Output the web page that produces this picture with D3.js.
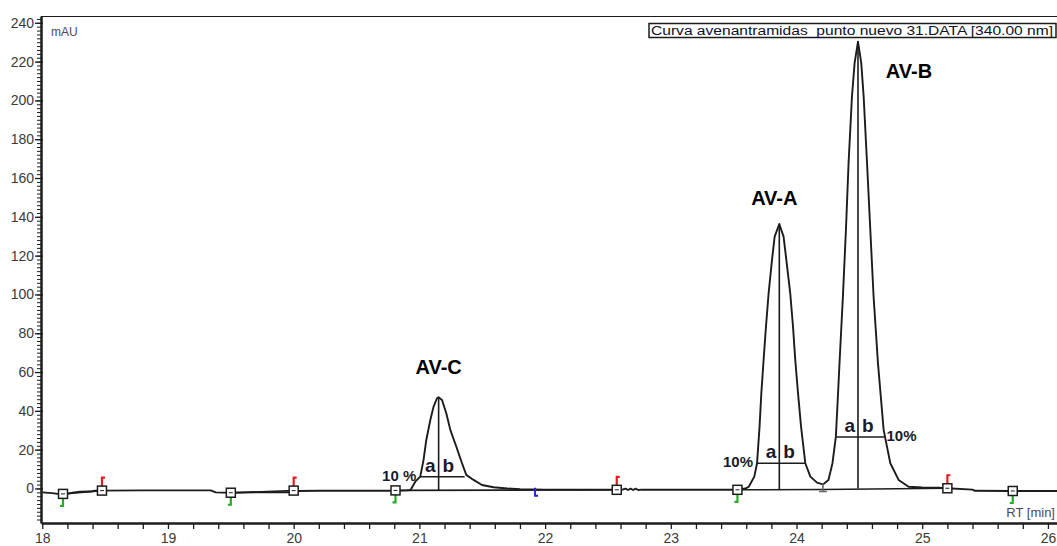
<!DOCTYPE html>
<html>
<head>
<meta charset="utf-8">
<script src="https://cdn.jsdelivr.net/npm/d3@7"></script>
<style>
body{margin:0;background:#fff;}
svg{display:block;font-family:"Liberation Sans",Arial,sans-serif;}
</style>
</head>
<body>
<div class="chrom"></div>
<script>
// chromatogram trace (RT in min, signal in mAU)
const traceRT = [18.00, 18.08, 18.12, 18.20, 18.24, 18.30, 18.38, 18.42, 18.47, 18.80, 19.10, 19.34, 19.38, 19.50, 19.70, 19.95, 20.03, 20.20, 20.50, 20.80, 20.90, 20.93,
	20.967, 21.007, 21.033, 21.055, 21.087, 21.113, 21.14, 21.153, 21.18, 21.214, 21.246, 21.294, 21.339, 21.373, 21.431, 21.498, 21.59, 21.70, 21.80, 22.00, 22.30, 22.57,
	22.62, 22.64, 22.66, 22.68, 22.70, 22.72, 22.74, 22.77, 23.00, 23.30, 23.50, 23.56, 23.60, 23.62, 23.664, 23.686, 23.706, 23.72, 23.738, 23.757, 23.778, 23.805, 23.826,
	23.863, 23.897, 23.919, 23.95, 23.972, 23.99, 24.012, 24.036, 24.07, 24.11, 24.163, 24.21, 24.254, 24.286, 24.313, 24.329, 24.342, 24.369, 24.393, 24.414, 24.441, 24.462,
	24.489, 24.515, 24.534, 24.561, 24.587, 24.613, 24.648, 24.693, 24.746, 24.812, 24.892, 25.00, 25.13, 25.20, 25.40, 25.42, 25.70, 26.10]
const traceMAU = [-2.0, -2.4, -2.8, -2.8, -2.2, -1.7, -1.6, -1.2, -1.1, -1.0, -1.0, -1.0, -2.0, -2.2, -2.0, -2.0, -1.3, -1.2, -1.2, -1.2, -1.0, -0.8,
	3.5, 6.1, 14.7, 25.0, 35.3, 42.2, 46.5, 47.0, 45.6, 38.8, 30.2, 21.5, 13.0, 7.0, 4.4, 1.8, 0.6, 0.0, -0.4, -0.6, -0.7, -0.7,
	-0.5, -0.1, -0.8, -0.1, -0.8, -0.1, -0.8, -0.6, -0.7, -0.7, -0.7, -0.4, 0.2, 0.9, 6.1, 13.0, 31.9, 49.0, 66.2, 83.4, 100.6, 117.8, 129.8,
	136.3, 129.8, 117.8, 100.6, 83.4, 66.2, 49.0, 31.9, 13.0, 6.1, 3.0, 2.1, 4.4, 13.0, 26.7, 47.3, 64.5, 98.9, 133.2, 167.6, 202.0, 219.2,
	230.3, 219.2, 202.0, 167.6, 133.2, 98.9, 64.5, 30.2, 13.0, 4.4, 0.9, 0.5, 0.4, 0.1, -0.6, -1.2, -1.3, -1.3]

// integration markers
const markerRT = [18.165, 18.475, 19.5, 20.0, 20.81, 21.92, 22.57, 23.53, 24.21, 25.2, 25.72]
const markerMAU = [-2.8, -1.1, -2.2, -1.1, -1.0, -0.7, -0.7, -0.7, -0.5, 0.1, -1.3]
const markerType = ["start", "end", "start", "end", "start", "split", "end", "start", "valley", "end", "start"]
const baselinePairs = [[0, 1], [2, 3], [4, 6], [7, 8], [8, 9]]

// peaks
const peakNames = ["AV-C", "AV-A", "AV-B"]
const peakRT = [21.153, 23.863, 24.489]
const peakTop = [47.0, 136.3, 230.3]
const peakBase = [-0.9, -0.7, 0.0]
const tenPctMAU = [6.0, 13.0, 26.5]
const tenPctFrom = [21.007, 23.686, 24.313]
const tenPctTo = [21.36, 24.07, 24.70]
const tenPctText = ["10 %", "10%", "10%"]
const tenPctSide = ["left", "left", "right"]

const xLabels = [18, 19, 20, 21, 22, 23, 24, 25, 26]
const yLabels = [0, 20, 40, 60, 80, 100, 120, 140, 160, 180, 200, 220, 240]
const legendText = "Curva avenantramidas_punto nuevo 31.DATA [340.00 nm]"

const width = 1057
const height = 546
const margin = {left:41, right:0, top:16, bottom:23}

const xScale = d3.scaleLinear()
	.domain([17.99, 26.08])
	.range([margin.left, width + 1])

const yScale = d3.scaleLinear()
	.domain([-17.8, 243.5])
	.range([height - margin.bottom, margin.top])

let svg = d3.select(".chrom")
	.append("svg")
	.attr("width", width)
	.attr("height", height)

const ink = "#1c1c1c"
const labelInk = "#3a3a3a"

// top frame line
svg.append("line")
	.attr("x1", margin.left).attr("x2", width)
	.attr("y1", margin.top + 0.5).attr("y2", margin.top + 0.5)
	.attr("stroke", ink).attr("stroke-width", 1.2)

// X axis: minor ticks every 0.2 min, labels on whole minutes
const xMinor = d3.range(0, 41).map(function(i){return 18 + i * 0.2})
const xAxisCall = d3.axisBottom(xScale)
	.tickValues(xMinor)
	.tickSize(6)
	.tickSizeOuter(0)
	.tickPadding(4)
	.tickFormat(function(d){
		const r = Math.round(d)
		return (Math.abs(d - r) < 1e-6 && xLabels.includes(r)) ? r : ""
	})

const gx = svg.append("g")
	.attr("class", "x axis")
	.attr("transform", "translate(0, " + (height - margin.bottom) + ")")
	.call(xAxisCall)
gx.select(".domain").attr("stroke", ink).attr("stroke-width", 2.5)
gx.selectAll(".tick line").attr("stroke", ink).attr("stroke-width", 1.3)
gx.selectAll("text")
	.attr("font-size", "14px")
	.attr("fill", labelInk)
	.attr("font-family", "Liberation Sans, Arial, sans-serif")

// Y axis: minor every 2 mAU, labelled every 20
const yMinor = d3.range(-8, 122).map(function(i){return i * 2}).filter(function(v){return v >= -16 && v <= 242})
svg.append("g")
	.attr("class", "y minor")
	.attr("transform", "translate(" + margin.left + ", 0)")
	.call(d3.axisLeft(yScale).tickValues(yMinor).tickSize(4).tickFormat(""))
	.call(function(g){g.select(".domain").remove()})
	.selectAll("line").attr("stroke", ink).attr("stroke-width", 1)

const gy = svg.append("g")
	.attr("class", "y axis")
	.attr("transform", "translate(" + margin.left + ", 0)")
	.call(d3.axisLeft(yScale).tickValues(yLabels).tickSize(6).tickSizeOuter(0).tickPadding(1))
gy.select(".domain").attr("stroke", ink).attr("stroke-width", 2.5)
gy.selectAll(".tick line").attr("stroke", ink).attr("stroke-width", 1.3).attr("x2", -6).attr("x1", 2)
gy.selectAll("text")
	.attr("font-size", "14px")
	.attr("fill", labelInk)
	.attr("font-family", "Liberation Sans, Arial, sans-serif")

// axis units
svg.append("text")
	.attr("x", margin.left + 10)
	.attr("y", margin.top + 20)
	.attr("font-size", "12px")
	.attr("fill", "#4a4a5a")
	.text("mAU")

svg.append("text")
	.attr("x", width - 2)
	.attr("y", height - margin.bottom - 6)
	.attr("text-anchor", "end")
	.attr("font-size", "13px")
	.attr("fill", "#4a4a5a")
	.text("RT [min]")

// integration baselines
svg.append("g").selectAll("line")
	.data(baselinePairs)
	.enter()
	.append("line")
	.attr("x1", function(d){return xScale(markerRT[d[0]])})
	.attr("y1", function(d){return yScale(markerMAU[d[0]])})
	.attr("x2", function(d){return xScale(markerRT[d[1]])})
	.attr("y2", function(d){return yScale(markerMAU[d[1]])})
	.attr("stroke", ink)
	.attr("stroke-width", 1.6)

// drop lines at apex
svg.append("g").selectAll("line")
	.data(peakRT)
	.enter()
	.append("line")
	.attr("x1", function(d){return xScale(d)})
	.attr("x2", function(d){return xScale(d)})
	.attr("y1", function(d, i){return yScale(peakTop[i])})
	.attr("y2", function(d, i){return yScale(peakBase[i])})
	.attr("stroke", ink)
	.attr("stroke-width", 1.6)

// 10 % width lines
svg.append("g").selectAll("line")
	.data(tenPctMAU)
	.enter()
	.append("line")
	.attr("x1", function(d, i){return xScale(tenPctFrom[i])})
	.attr("x2", function(d, i){return xScale(tenPctTo[i])})
	.attr("y1", function(d){return yScale(d)})
	.attr("y2", function(d){return yScale(d)})
	.attr("stroke", ink)
	.attr("stroke-width", 1.6)

// the trace
const line = d3.line()
	.x(function(d){return xScale(traceRT[d])})
	.y(function(d){return yScale(traceMAU[d])})

svg.append("path")
	.datum(d3.range(traceRT.length))
	.attr("d", line)
	.attr("fill", "none")
	.attr("stroke", ink)
	.attr("stroke-width", 1.9)
	.attr("stroke-linejoin", "round")

// "a" / "b" labels and 10 % labels
const ab = svg.append("g")
	.attr("font-size", "19px")
	.attr("font-weight", "bold")
	.attr("fill", "#1a1a2a")
peakRT.forEach(function(rt, i){
	const x = xScale(rt)
	const y = yScale(tenPctMAU[i]) - 5
	ab.append("text").attr("x", x - 3).attr("y", y).attr("text-anchor", "end").text("a")
	ab.append("text").attr("x", x + 4).attr("y", y).attr("text-anchor", "start").text("b")
})

svg.append("g").selectAll("text")
	.data(tenPctText)
	.enter()
	.append("text")
	.attr("x", function(d, i){return tenPctSide[i] === "left" ? xScale(tenPctFrom[i]) - 4 : xScale(tenPctTo[i]) + 2})
	.attr("y", function(d, i){return yScale(tenPctMAU[i]) + 4})
	.attr("text-anchor", function(d, i){return tenPctSide[i] === "left" ? "end" : "start"})
	.attr("font-size", "15px")
	.attr("font-weight", "bold")
	.attr("fill", "#1a1a2a")
	.text(function(d){return d})

// peak names
const nameOffset = [[0, -23], [-5, -19], [51, 36]]
svg.append("g").selectAll("text")
	.data(peakNames)
	.enter()
	.append("text")
	.attr("x", function(d, i){return xScale(peakRT[i]) + nameOffset[i][0]})
	.attr("y", function(d, i){return yScale(peakTop[i]) + nameOffset[i][1]})
	.attr("text-anchor", "middle")
	.attr("font-size", "20px")
	.attr("font-weight", "bold")
	.attr("fill", "#000")
	.text(function(d){return d})

// integration markers
const mk = svg.append("g")
markerRT.forEach(function(rt, i){
	const x = xScale(rt)
	const y = yScale(markerMAU[i])
	const t = markerType[i]
	if (t === "start") {
		mk.append("path")
			.attr("d", "M" + x + "," + (y + 4) + "V" + (y + 12) + "H" + (x - 3))
			.attr("fill", "none").attr("stroke", "#22b022").attr("stroke-width", 2.2)
	}
	if (t === "end") {
		mk.append("path")
			.attr("d", "M" + x + "," + (y - 4) + "V" + (y - 13) + "H" + (x + 3))
			.attr("fill", "none").attr("stroke", "#e02020").attr("stroke-width", 2.2)
	}
	if (t === "split") {
		mk.append("path")
			.attr("d", "M" + x + "," + (y - 2) + "V" + (y + 6) + "H" + (x + 3))
			.attr("fill", "none").attr("stroke", "#2828c8").attr("stroke-width", 2)
	}
	if (t === "valley") {
		mk.append("path")
			.attr("d", "M" + x + "," + (y - 6) + "V" + (y + 2) + "M" + (x - 4) + "," + (y + 2) + "H" + (x + 4))
			.attr("fill", "none").attr("stroke", "#666").attr("stroke-width", 1.6)
	}
	if (t === "start" || t === "end") {
		mk.append("rect")
			.attr("x", x - 4.5).attr("y", y - 4.5)
			.attr("width", 9).attr("height", 9)
			.attr("fill", "#fff").attr("stroke", ink).attr("stroke-width", 1.5)
		mk.append("line")
			.attr("x1", x - 2).attr("x2", x + 2)
			.attr("y1", y).attr("y2", y)
			.attr("stroke", ink).attr("stroke-width", 1)
	}
})

// legend box
const lg = svg.append("g")
lg.append("rect")
	.attr("x", width - 408).attr("y", margin.top + 7.5)
	.attr("width", 407).attr("height", 14)
	.attr("fill", "#fff").attr("stroke", ink).attr("stroke-width", 1.5)
lg.append("text")
	.attr("x", width - 406).attr("y", margin.top + 18.5)
	.attr("font-size", "12px")
	.attr("fill", "#10102a")
	.attr("textLength", 402)
	.attr("lengthAdjust", "spacingAndGlyphs")
	.text(legendText)
</script>
</body>
</html>
